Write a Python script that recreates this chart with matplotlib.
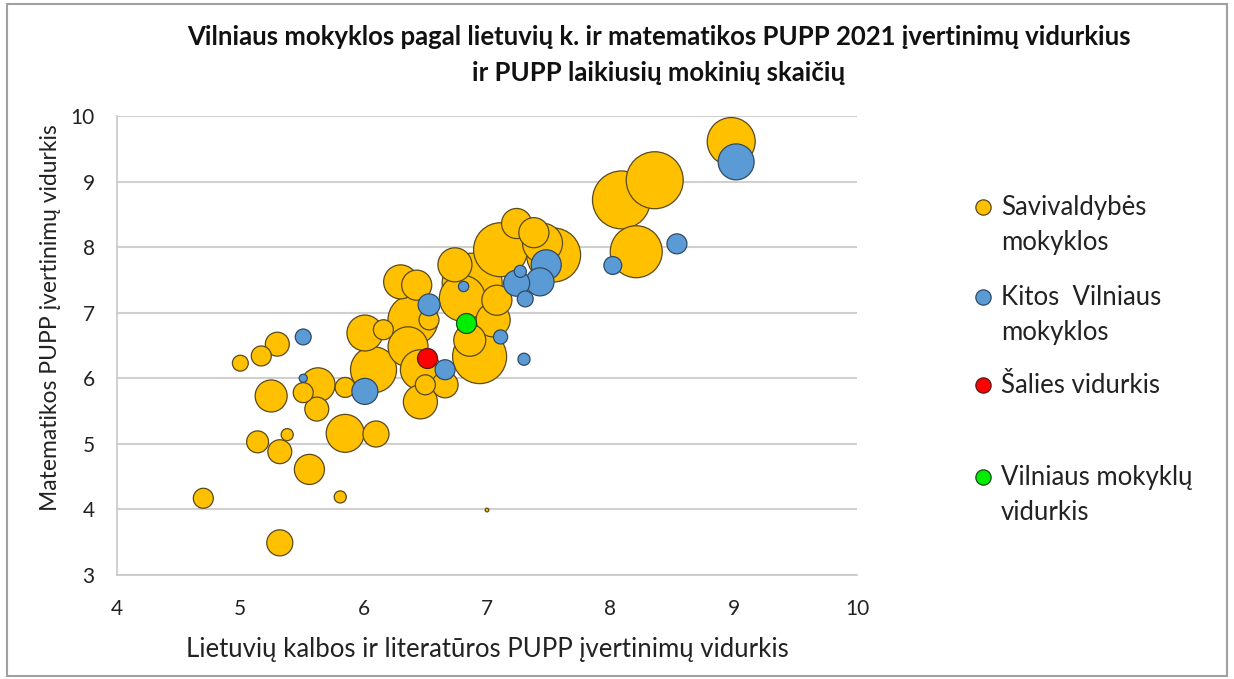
import matplotlib.pyplot as plt
from matplotlib.lines import Line2D
from matplotlib.patches import Rectangle

plt.rcParams['font.family'] = ['Lato', 'DejaVu Sans']

# Savivaldybės mokyklos: lietuvių k. vidurkis, matematikos vidurkis, mokinių skaičius
sav_lt = [8.98, 8.36, 8.09, 8.21, 7.24, 7.54, 7.11, 7.38, 7.45, 6.74,
          6.88, 6.80, 6.30, 6.43, 6.40, 6.36, 6.94, 6.86, 7.05, 6.08,
          6.46, 6.50, 6.46, 6.66, 6.01, 6.16, 5.85, 5.85, 6.10, 5.63,
          5.51, 5.62, 5.25, 5.30, 5.17, 5.00, 5.14, 5.38, 5.32, 5.56,
          4.70, 5.81, 5.32, 6.53, 7.08, 7.00]
sav_mat = [9.61, 9.02, 8.72, 7.93, 8.36, 7.88, 7.96, 8.22, 8.06, 7.73,
           7.45, 7.22, 7.47, 7.42, 6.89, 6.48, 6.33, 6.58, 6.89, 6.13,
           6.13, 5.90, 5.64, 5.90, 6.69, 6.74, 5.86, 5.16, 5.15, 5.90,
           5.78, 5.53, 5.73, 6.52, 6.34, 6.23, 5.03, 5.14, 4.88, 4.61,
           4.17, 4.19, 3.49, 6.89, 7.19, 3.99]
sav_n = [173, 244, 252, 203, 68, 219, 219, 68, 120, 87,
         270, 159, 87, 68, 188, 120, 219, 77, 87, 159,
         120, 30, 87, 51, 97, 30, 30, 108, 51, 87,
         30, 43, 77, 43, 30, 19, 36, 11, 43, 68,
         30, 11, 51, 30, 68, 1]

# Kitos Vilniaus mokyklos
kit_lt = [9.02, 8.54, 8.02, 7.48, 7.43, 7.24, 7.27, 7.31, 7.11, 7.30,
          6.81, 6.53, 6.66, 6.01, 5.51, 5.51]
kit_mat = [9.30, 8.05, 7.72, 7.73, 7.47, 7.45, 7.63, 7.21, 6.63, 6.29,
           7.40, 7.12, 6.13, 5.80, 6.63, 6.00]
kit_n = [97, 30, 24, 68, 59, 51, 11, 19, 15, 11,
         8, 36, 30, 51, 19, 5]

# vidurkiai
salies = (6.51, 6.31)
vilniaus = (6.83, 6.84)

SCALE = 6.9  # mokinių skaičius -> taško plotas


def sorted_desc(x, y, n):
    rows = sorted(zip(x, y, n), key=lambda r: -r[2])
    return [r[0] for r in rows], [r[1] for r in rows], [r[2] * SCALE for r in rows]


fig = plt.figure(figsize=(12.34, 6.79), dpi=100)
ax = fig.add_axes([0.0948, 0.1532, 0.5997, 0.676])

edge = '#5a4a1a'
x, y, s = sorted_desc(sav_lt, sav_mat, sav_n)
ax.scatter(x, y, s=s, color='#FFC000', edgecolor=edge, linewidth=0.9, zorder=3, clip_on=False)
x, y, s = sorted_desc(kit_lt, kit_mat, kit_n)
ax.scatter(x, y, s=s, color='#5B9BD5', edgecolor='#2f4a66', linewidth=0.9, zorder=4, clip_on=False)
ax.scatter([salies[0]], [salies[1]], s=30 * SCALE, color='#FF0000', edgecolor='#5a1a1a',
           linewidth=0.9, zorder=5)
ax.scatter([vilniaus[0]], [vilniaus[1]], s=30 * SCALE, color='#00EE00', edgecolor='#1a4a1a',
           linewidth=0.9, zorder=5)

ax.set_xlim(4, 10)
ax.set_ylim(3, 10)
ax.set_xticks(range(4, 11))
ax.set_yticks(range(3, 11))
ax.grid(axis='y', color='#D0D0D0', linewidth=1.5, zorder=0)
ax.set_axisbelow(True)
for sp in ['top', 'right']:
    ax.spines[sp].set_visible(False)
ax.spines['left'].set_color('#C8C8C8')
ax.spines['bottom'].set_color('#C8C8C8')
ax.spines['left'].set_linewidth(1.2)
ax.spines['bottom'].set_linewidth(1.2)
ax.tick_params(length=0, labelsize=15, colors='#222222')
ax.tick_params(axis='x', pad=17)
ax.tick_params(axis='y', pad=16)

ax.set_xlabel('Lietuvių kalbos ir literatūros PUPP įvertinimų vidurkis', fontsize=18.5, color='#222222')
ax.set_ylabel('Matematikos PUPP įvertinimų vidurkis', fontsize=16.5, color='#222222')
ax.xaxis.set_label_coords(0.5, -0.135)
ax.yaxis.set_label_coords(-0.075, 0.56)

fig.text(0.534, 0.945, 'Vilniaus mokyklos pagal lietuvių k. ir matematikos PUPP 2021 įvertinimų vidurkius',
         ha='center', va='center', fontsize=18.5, fontweight='bold', color='#111111')
fig.text(0.534, 0.892, 'ir PUPP laikiusių mokinių skaičių',
         ha='center', va='center', fontsize=18.5, fontweight='bold', color='#111111')

# legenda
leg = [('Savivaldybės\nmokyklos', '#FFC000', edge, 207),
       ('Kitos  Vilniaus\nmokyklos', '#5B9BD5', '#2f4a66', 297),
       ('Šalies vidurkis', '#FF0000', '#5a1a1a', 385),
       ('Vilniaus mokyklų\nvidurkis', '#00EE00', '#1a4a1a', 477)]
for label, fc, ec, py in leg:
    yf = 1 - py / 679
    fig.add_artist(Line2D([983 / 1234], [yf], marker='o', markersize=11, color=fc,
                          markeredgecolor=ec, markeredgewidth=0.9, transform=fig.transFigure))
    fig.text(1001 / 1234, yf + 0.018, label, ha='left', va='top', fontsize=18.5,
             color='#222222', linespacing=1.5)

fig.add_artist(Rectangle((0.006, 0.004), 0.988, 0.99, transform=fig.transFigure,
                         fill=False, edgecolor='#A0A0A0', linewidth=1.5))

plt.savefig('out.png', dpi=100)
